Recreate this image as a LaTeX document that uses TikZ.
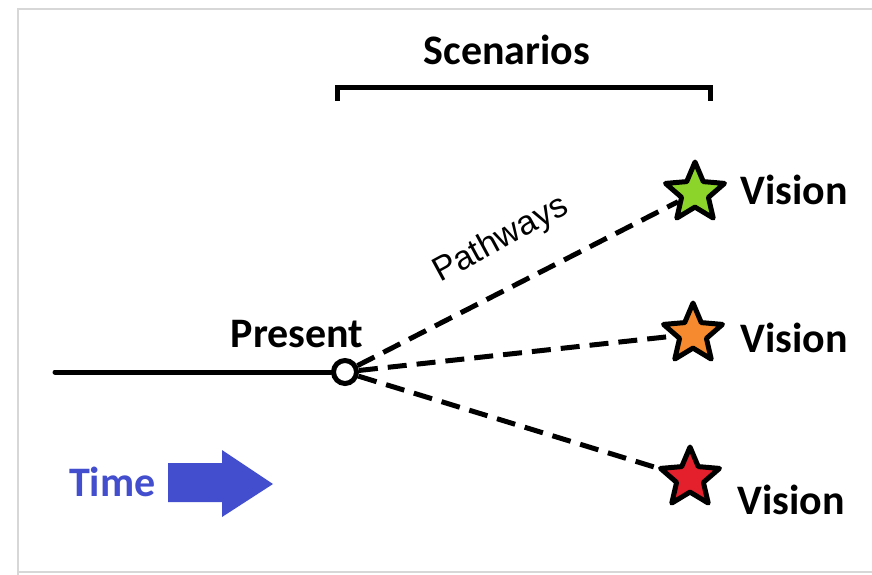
\documentclass[tikz,border=0pt]{standalone}
\usepackage{fontspec}
\setmainfont{Carlito}
\newfontfamily\arialfont{Liberation Sans}
\usetikzlibrary{shapes.geometric}
\definecolor{timeblue}{RGB}{66,78,206}
\definecolor{stargreen}{RGB}{140,212,42}
\definecolor{starorange}{RGB}{245,138,46}
\definecolor{starred}{RGB}{227,32,43}
\definecolor{framegray}{RGB}{215,215,215}
\tikzset{
  lbl/.style={font=\fontsize{42}{46}\selectfont\bfseries, inner sep=0pt},
  vstar/.style={star, star points=5, star point ratio=2.2, minimum size=62pt,
    inner sep=0pt, draw=black, line width=5pt, line join=round},
  path/.style={line width=5pt, dash pattern=on 19pt off 10pt},
  solid line/.style={line width=5pt, line cap=round},
}
\begin{document}
\begin{tikzpicture}[x=1pt,y=-1pt]
\useasboundingbox (0,0) rectangle (872,575);
\fill[white] (0,0) rectangle (872,575);
% frame
\draw[framegray, line width=2.5pt] (18,575) -- (18,9) -- (872,9);
\draw[framegray, line width=2.5pt] (18,572) -- (872,572);
% scenarios
\node[lbl] (scen) at (507,50) {Scenarios};
\coordinate (bl) at (337,101);
\coordinate (br) at (710,101);
\draw[line width=5pt] (bl) -- ++(0,-13) coordinate (blt) -- (br |- blt) -- (br);
% timeline
\node[draw=black, line width=5pt, circle, minimum size=23pt, inner sep=0pt, fill=white] (pres) at (345,372) {};
\coordinate (start) at (55,372);
\draw[solid line] (start) -- (pres.west);
\node[lbl, anchor=south] (ptxt) at (297,348) {Present};
% stars
\node[vstar, fill=stargreen] (g) at (695,193) {};
\node[vstar, fill=starorange] (o) at (693,334) {};
\node[vstar, fill=starred] (r) at (690,478) {};
\node[lbl, anchor=west] (vg) at (740,190) {Vision};
\node[lbl, anchor=west] (vo) at (740,338) {Vision};
\node[lbl, anchor=west] (vr) at (737,500) {Vision};
% pathways
\draw[path] (pres) -- (g);
\draw[path] (pres) -- (o);
\draw[path] (pres) -- (r);
\node[font=\arialfont\fontsize{34}{37}\selectfont, rotate=28.5, inner sep=0pt] (pw) at (501,240) {Pathways};
% time
\node[lbl, text=timeblue, anchor=west] (time) at (69,482) {Time};
\fill[timeblue] (168,463) -- (222,463) -- (222,450) -- (273,484) -- (222,517) -- (222,502) -- (168,502) -- cycle;
\end{tikzpicture}
\end{document}
